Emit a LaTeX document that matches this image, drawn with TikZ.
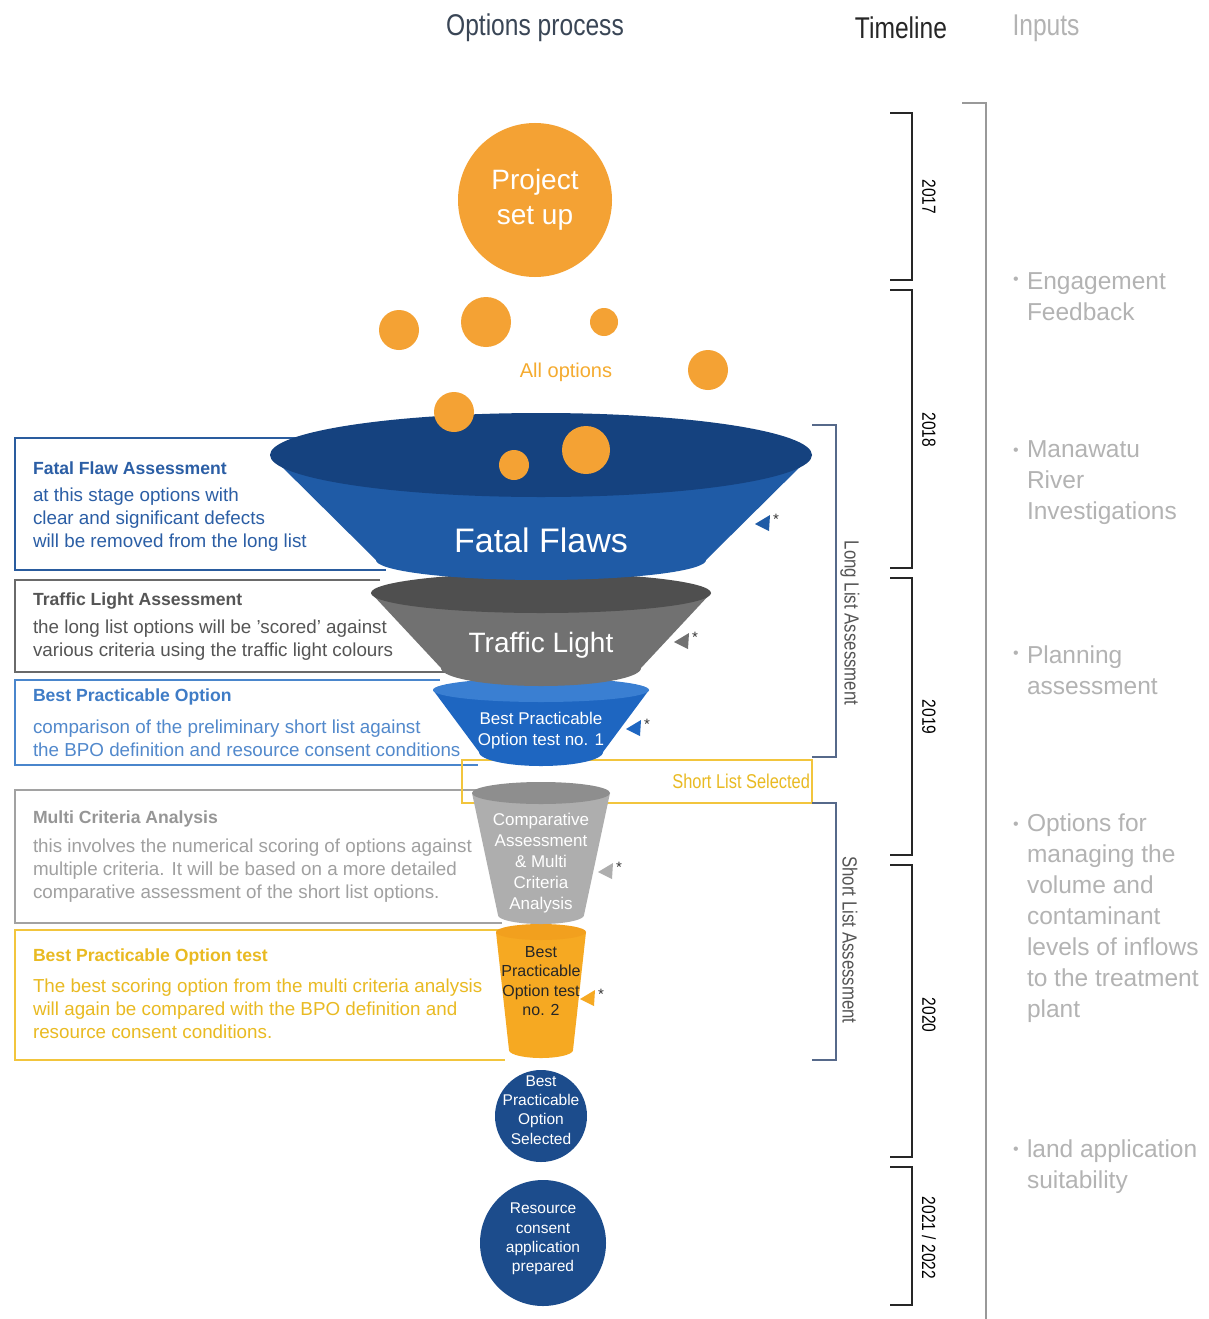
\documentclass[tikz,border=0pt]{standalone}
\usepackage{fontspec}
\setmainfont{Liberation Sans}
\newfontfamily\condfont[FakeStretch=0.82]{Liberation Sans}

\definecolor{optorange}{HTML}{F4A234}
\definecolor{ffbody}{HTML}{1F5BA6}
\definecolor{ffrim}{HTML}{15427F}
\definecolor{tlbody}{HTML}{717171}
\definecolor{tlrim}{HTML}{4F4F4F}
\definecolor{bpbody}{HTML}{1E66C1}
\definecolor{bprim}{HTML}{3A7FD2}
\definecolor{cabody}{HTML}{AEAEAE}
\definecolor{carim}{HTML}{8E8E8E}
\definecolor{b2body}{HTML}{F6A922}
\definecolor{b2rim}{HTML}{F2A01E}
\definecolor{navy}{HTML}{1C4C8C}
\definecolor{ffline}{HTML}{2A5C9E}
\definecolor{fftext}{HTML}{2B5EA5}
\definecolor{tlline}{HTML}{6A6A6A}
\definecolor{tltext}{HTML}{555555}
\definecolor{bpline}{HTML}{4A86CC}
\definecolor{bptext}{HTML}{3F7CC6}
\definecolor{maline}{HTML}{A2A2A2}
\definecolor{matext}{HTML}{969696}
\definecolor{goldline}{HTML}{F2C53D}
\definecolor{goldtext}{HTML}{E9BA22}
\definecolor{bracketblue}{HTML}{56698A}
\definecolor{inputgray}{HTML}{B3B3B3}
\definecolor{headslate}{HTML}{3A4656}

% one stacked funnel piece: cx, top y, top rx, top ry, bottom y, bottom rx, bottom ry, body colour, rim colour
\newcommand\funnelpart[9]{%
  \fill[#8] ({#1-#3},#2) -- ({#1-#6},#5)
    -- plot[domain=180:0,samples=60,variable=\t] ({#1+#6*cos(\t)},{#5+#7*sin(\t)})
    -- ({#1+#3},#2) -- cycle;
  \fill[#9] (#1,#2) ellipse[x radius=#3, y radius=#4];
}
% small pointer with asterisk beside a funnel piece: name, x, y, colour
\newcommand\stagemark[4]{%
  \fill[#4] ({#2-10},{#3+2}) -- ({#2+5},{#3-7}) -- ({#2+4},{#3+9}) -- cycle;
  \node[font=\fontsize{15}{15}\selectfont, text=black!80] (#1) at ({#2+11},{#3-3}) {*};
}

\begin{document}
\begin{tikzpicture}[x=1pt,y=-1pt,
  every node/.style={inner sep=0pt, outer sep=0pt},
  head/.style={font=\condfont\fontsize{30}{34}\selectfont},
  boxtitle/.style={font=\bfseries\fontsize{17.6}{23}\selectfont, anchor=west},
  boxbody/.style={font=\fontsize{18.8}{23}\selectfont, anchor=west, align=left},
  inputtxt/.style={font=\fontsize{24.5}{31}\selectfont, text=inputgray, anchor=west, align=left},
  bullet/.style={font=\fontsize{16}{16}\selectfont, text=inputgray},
  yearlbl/.style={font=\condfont\fontsize{19}{19}\selectfont, rotate=-90},
  phaselbl/.style={font=\condfont\fontsize{20.5}{20.5}\selectfont, rotate=-90, text=tltext},
  seglbl/.style={text=white, align=center},
  ball/.style={circle, fill=optorange},
  stagecircle/.style={circle, fill=navy, text=white, align=center}]

\fill[white] (0,0) rectangle (1208,1319);
\useasboundingbox (0,0) rectangle (1208,1319);

% column headings
\node[head, text=headslate] (hOptions) at (535,28) {Options process};
\node[head, text=black!85] (hTimeline) at (901,28) {Timeline};
\node[head, text=inputgray] (hInputs) at (1046,28) {Inputs};

% description boxes (open on the funnel side)
\draw[ffline, line width=1.5] (300,438) -- (15,438) -- (15,570) -- (386,570);
\draw[tlline, line width=1.5] (380,580) -- (15,580) -- (15,672) -- (448,672);
\draw[bpline, line width=1.5] (440,680) -- (15,680) -- (15,765) -- (478,765);
\draw[maline, line width=1.3] (478,790) -- (15,790) -- (15,923) -- (502,923);
\draw[goldline, line width=1.5] (500,930) -- (15,930) -- (15,1060) -- (505,1060);

\node[boxtitle, text=fftext] (tFatal) at (33,468) {Fatal Flaw Assessment};
\node[boxbody, text=fftext] (dFatal) at (33,520) {at this stage options with\\clear and significant defects\\will be removed from the long list};
\node[boxtitle, text=tltext] (tTraffic) at (33,601) {Traffic Light Assessment};
\node[boxbody, text=tltext] (dTraffic) at (33,640.5) {the long list options will be 'scored' against\\various criteria using the traffic light colours};
\node[boxtitle, text=bptext] (tBPO) at (33,697) {Best Practicable Option};
\node[boxbody, text=bptext!90!white] (dBPO) at (33,738) {comparison of the preliminary short list against\\the BPO definition and resource consent conditions};
\node[boxtitle, text=matext] (tMCA) at (33,819) {Multi Criteria Analysis};
\node[boxbody, text=matext!90!white] (dMCA) at (33,871) {this involves the numerical scoring of options against\\multiple criteria. It will be based on a more detailed\\comparative assessment of the short list options.};
\node[boxtitle, text=goldtext] (tBPOtest) at (33,957) {Best Practicable Option test};
\node[boxbody, text=goldtext] (dBPOtest) at (33,1009) {The best scoring option from the multi criteria analysis\\will again be compared with the BPO definition and\\resource consent conditions.};

% short list selected band
\draw[goldline, line width=1.5] (462,760) rectangle (812,803);
\node[font=\condfont\fontsize{20}{20}\selectfont, text=goldtext, anchor=east] (lShort) at (810,781) {Short List Selected};

% assessment brackets
\draw[bracketblue, line width=1.2] (812,425) -- (836,425) -- (836,757) -- (812,757);
\draw[bracketblue, line width=1.2] (812,803) -- (836,803) -- (836,1060) -- (812,1060);
\node[phaselbl] (pLong) at (850,623) {Long List Assessment};
\node[phaselbl] (pShortList) at (850,940) {Short List Assessment};

% funnel, lowest piece first
\funnelpart{541}{932}{45}{8}{1050}{32}{8}{b2body}{b2rim}
\funnelpart{541}{793}{69}{11}{915}{43}{9}{cabody}{carim}
\funnelpart{541}{690}{108}{12}{752}{62}{14}{bpbody}{bprim}
\funnelpart{541}{593}{170}{20}{668}{100}{18}{tlbody}{tlrim}
\funnelpart{541}{455}{271}{42}{560}{165}{20}{ffbody}{ffrim}

\node[seglbl, font=\fontsize{34}{34}\selectfont] (sFatal) at (541,540) {Fatal Flaws};
\node[seglbl, font=\fontsize{28}{28}\selectfont] (sTraffic) at (541,645) {Traffic Light};
\node[seglbl, font=\fontsize{17}{21}\selectfont] (sBPO1) at (541,731) {Best Practicable\\Option test no. 1};
\node[seglbl, font=\fontsize{17}{21}\selectfont] (sComp) at (541,863) {Comparative\\Assessment\\\& Multi\\Criteria\\Analysis};
\node[align=center, text=black!85, font=\fontsize{16}{19.5}\selectfont] (sBPO2) at (541,981) {Best\\Practicable\\Option test\\no. 2};

\stagemark{m1}{765}{522}{ffbody}
\stagemark{m2}{684}{640}{tlbody}
\stagemark{m3}{636}{727}{bpbody}
\stagemark{m4}{608}{870}{cabody}
\stagemark{m5}{590}{997}{b2body}

% project start and options falling in
\node[ball, minimum size=154pt, text=white, align=center, font=\fontsize{28}{35}\selectfont] (setup) at (535,200) {Project\\set up};
\node[ball, minimum size=40pt] (o1) at (399,330) {};
\node[ball, minimum size=50pt] (o2) at (486,322) {};
\node[ball, minimum size=28pt] (o3) at (604,322) {};
\node[ball, minimum size=40pt] (o4) at (708,370) {};
\node[ball, minimum size=40pt] (o5) at (454,412) {};
\node[ball, minimum size=30pt] (o6) at (514,465) {};
\node[ball, minimum size=48pt] (o7) at (586,450) {};
\node[font=\fontsize{20}{20}\selectfont, text=optorange!90!yellow] (lAll) at (566,372) {All options};

% outcomes
\node[stagecircle, minimum size=92pt] (selected) at (541,1116) {};
\node[text=white, align=center, font=\fontsize{15.5}{19.3}\selectfont] (selectedTxt) at (541,1110) {Best\\Practicable\\Option\\Selected};
\node[stagecircle, minimum size=126pt] (consent) at (543,1243) {};
\node[text=white, align=center, font=\fontsize{15.5}{19.3}\selectfont] (consentTxt) at (543,1239) {Resource\\consent\\application\\prepared};

% timeline
\draw[black!85, line width=1.8] (890,113) -- (912,113) -- (912,280) -- (890,280);
\draw[black!85, line width=1.8] (890,290) -- (912,290) -- (912,568) -- (890,568);
\draw[black!85, line width=1.8] (890,578) -- (912,578) -- (912,855) -- (890,855);
\draw[black!85, line width=1.8] (890,865) -- (912,865) -- (912,1157) -- (890,1157);
\draw[black!85, line width=1.8] (890,1167) -- (912,1167) -- (912,1305) -- (890,1305);
\node[yearlbl] (y17) at (929,197) {2017};
\node[yearlbl] (y18) at (929,430) {2018};
\node[yearlbl] (y19) at (929,717) {2019};
\node[yearlbl] (y20) at (929,1015) {2020};
\node[yearlbl] (y21) at (929,1238) {2021 / 2022};

% inputs column
\draw[black!40, line width=1.2] (962,103) -- (986,103) -- (986,1319);
\node[bullet] (bu1) at (1016,281) {•};
\node[inputtxt] (in1) at (1027,296.5) {Engagement\\Feedback};
\node[bullet] (bu2) at (1016,452) {•};
\node[inputtxt] (in2) at (1027,483) {Manawatu\\River\\Investigations};
\node[bullet] (bu3) at (1016,655) {•};
\node[inputtxt] (in3) at (1027,670.5) {Planning\\assessment};
\node[bullet] (bu4) at (1016,826) {•};
\node[inputtxt] (in4) at (1027,918) {Options for\\managing the\\volume and\\contaminant\\levels of inflows\\to the treatment\\plant};
\node[bullet] (bu5) at (1016,1151) {•};
\node[inputtxt] (in5) at (1027,1166.5) {land application\\suitability};
\end{tikzpicture}
\end{document}
